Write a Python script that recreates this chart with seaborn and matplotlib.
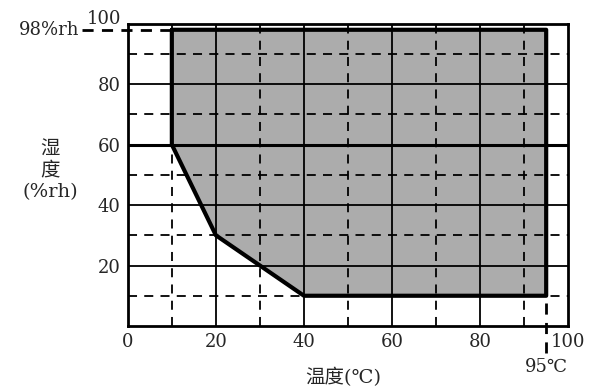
import numpy as np
import pandas as pd
import seaborn as sns
from matplotlib import pyplot as plt

# boundary of the shaded operating range (temperature, humidity)
temp_c = [10, 95, 95, 40, 20, 10, 10]
humid_rh = [98, 98, 10, 10, 30, 60, 98]

x_ticks = [0, 20, 40, 60, 80, 100]
y_ticks = [20, 40, 60, 80, 100]
x_minor = [10, 30, 50, 70, 90]
y_minor = [10, 30, 50, 70, 90]

max_rh = 98
max_temp = 95

sns.set_style("white")
fam = ['DejaVu Serif', 'Noto Sans CJK SC', 'DejaVu Sans']
plt.rcParams['font.family'] = fam

df = pd.DataFrame({'temp': temp_c, 'rh': humid_rh})

fig = plt.figure(figsize=(6, 3.89), dpi=100)
ax = fig.add_axes([0.213, 0.162, 0.734, 0.777])

ax.fill(df['temp'], df['rh'], color='#acacac', zorder=1, lw=0)

# grid
for v in x_ticks[1:-1]:
    ax.axvline(v, color='black', lw=1.3, zorder=2)
for v in y_ticks[:-1]:
    ax.axhline(v, color='black', lw=1.3, zorder=2)
for v in x_minor:
    ax.axvline(v, color='black', lw=1.3, ls=(0, (5, 4)), zorder=2)
for v in y_minor:
    ax.axhline(v, color='black', lw=1.3, ls=(0, (5, 4)), zorder=2)
ax.axhline(60, xmin=0, xmax=1, color='black', lw=2.2, zorder=3)

sns.lineplot(data=df, x='temp', y='rh', sort=False, estimator=None,
             color='black', lw=3, ax=ax, zorder=4)

# 98%rh and 95C markers
ax.plot([-10.5, 10], [max_rh, max_rh], color='black', lw=2, ls=(0, (4, 3)),
        clip_on=False, zorder=4)
ax.plot([max_temp, max_temp], [-9, 10], color='black', lw=2, ls=(0, (4, 3)),
        clip_on=False, zorder=4)
ax.text(-11, max_rh, '98%rh', ha='right', va='center', fontsize=13)
ax.text(max_temp, -13.5, '95℃', ha='center', va='center', fontsize=13)

ax.set_xlim(0, 100)
ax.set_ylim(0, 100)
ax.set_xticks(x_ticks)
ax.set_yticks(y_ticks)
ax.tick_params(axis='both', length=0, labelsize=13)
ax.tick_params(axis='x', pad=5)
ax.tick_params(axis='y', pad=5)
ax.get_yticklabels()[-1].set_va('baseline')

for s in ax.spines.values():
    s.set_linewidth(2)
    s.set_color('black')
    s.set_zorder(5)

ax.set_xlabel('温度(℃)', fontsize=14, va='center')
ax.xaxis.set_label_coords(0.49, -0.17)
ax.set_ylabel('湿\n度\n(%rh)', rotation=0, fontsize=14, linespacing=1.25)
ax.yaxis.set_label_coords(-0.177, 0.515)
ax.yaxis.label.set_va('center')

plt.savefig('out.png', dpi=100)
plt.close()
